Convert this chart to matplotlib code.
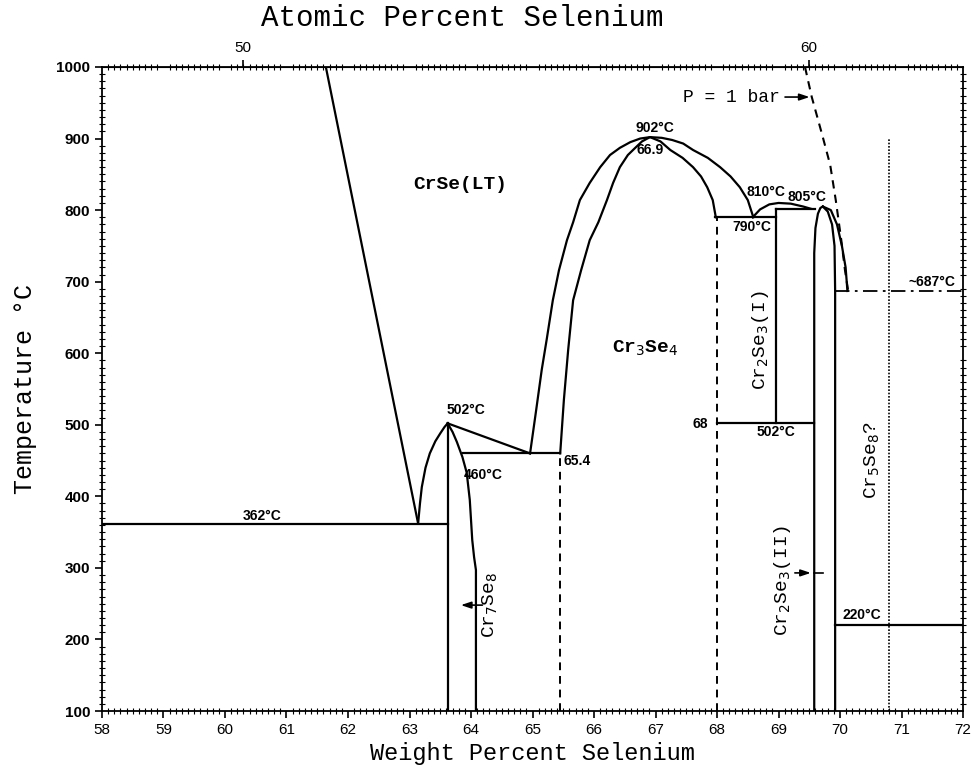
import numpy as np
import matplotlib
matplotlib.use("Agg")
from matplotlib import pyplot as plt
from matplotlib.ticker import MultipleLocator, FixedLocator

# --- boundaries (wt% Se, temperature degC) ---
liq_x = [61.64, 63.14]
liq_t = [1000, 362]

cr7_left_x = [63.14, 63.17, 63.2, 63.26, 63.33, 63.42, 63.5, 63.57, 63.62]
cr7_left_t = [362, 390, 413, 440, 460, 477, 488, 497, 502]
cr7_right_x = [63.62, 63.7, 63.77, 63.86, 63.93, 63.98, 64.02, 64.05, 64.08, 64.08]
cr7_right_t = [502, 490, 476, 455, 433, 395, 339, 315, 297, 100]

tie502_x = [63.62, 64.96]
tie502_t = [502, 460]

cr34_outer_x = [64.96, 65.06, 65.15, 65.23, 65.33, 65.43, 65.56, 65.66, 65.77,
                65.93, 66.10, 66.26, 66.42, 66.59, 66.75, 66.91, 67.1, 67.27,
                67.45, 67.61, 67.85, 68.05, 68.22, 68.37, 68.50, 68.59]
cr34_outer_t = [460, 521, 577, 619, 674, 716, 758, 783, 814,
                838, 860, 877, 887, 895, 900, 902, 901, 898,
                893, 884, 873, 860, 847, 832, 814, 790]
cr34_inner_x = [65.45, 65.51, 65.58, 65.66, 65.79, 65.93, 66.07, 66.21, 66.31,
                66.42, 66.55, 66.67, 66.78, 66.91, 67.08, 67.24, 67.44, 67.61,
                67.74, 67.84, 67.93, 67.98]
cr34_inner_t = [460, 535, 605, 674, 716, 758, 783, 814, 838,
                860, 877, 887, 896, 902, 896, 884, 873, 860,
                847, 832, 814, 790]

dome810_x = [68.58, 68.7, 68.85, 69.0, 69.2, 69.4, 69.52]
dome810_t = [790, 801, 808, 810, 809, 805, 802]

cr23ii_left_x = [69.58, 69.58, 69.6, 69.64, 69.68, 69.72]
cr23ii_left_t = [100, 740, 775, 795, 803, 805]
cr23ii_right_x = [69.72, 69.8, 69.87, 69.91, 69.92, 69.92]
cr23ii_right_t = [805, 798, 780, 750, 687, 100]
liq2_x = [69.72, 69.85, 69.95, 70.03, 70.09, 70.12]
liq2_t = [805, 800, 780, 750, 720, 687]

p1bar_x = [69.43, 69.54, 69.71, 69.84, 69.93, 70.02, 70.08, 70.13]
p1bar_t = [1000, 958, 905, 863, 814, 758, 716, 688]

# horizontal invariants: (x0, x1, T)
solid_h = [(58.0, 63.62, 362), (63.87, 65.45, 460), (67.97, 68.96, 790),
           (68.96, 69.6, 801), (68.0, 69.58, 502), (69.92, 72.0, 220)]
# vertical lines: (x, T0, T1)
solid_v = [(63.62, 100, 502), (68.96, 502, 801)]
dashed_v = [(65.45, 100, 460), (68.0, 100, 790)]
dotted_v = [(70.8, 100, 900)]
dashdot_h = [(69.92, 72.0, 687)]

# temperature / composition labels: (text, x, T, ha)
temp_labels = [
    ("902°C", 66.99, 915, "center"), ("66.9", 66.91, 884, "center"),
    ("502°C", 63.92, 521, "center"), ("460°C", 64.2, 430, "center"),
    ("65.4", 65.5, 450, "left"), ("362°C", 60.6, 373, "center"),
    ("790°C", 68.57, 776, "center"), ("810°C", 68.8, 825, "center"),
    ("805°C", 69.46, 818, "center"), ("~687°C", 71.5, 700, "center"),
    ("68", 67.72, 501, "center"), ("502°C", 68.96, 490, "center"),
    ("220°C", 70.36, 234, "center"),
]

WT_SE, WT_CR = 78.971, 51.996


def wt2at(w):
    w = np.asarray(w, dtype=float)
    a = w / WT_SE
    b = (100 - w) / WT_CR
    return 100 * a / (a + b)


def at2wt(at):
    at = np.asarray(at, dtype=float)
    a = at * WT_SE
    b = (100 - at) * WT_CR
    return 100 * a / (a + b)


mono = "Liberation Mono"
sans = "Liberation Sans"

fig = plt.figure(figsize=(9.73, 7.7), dpi=100)
ax = fig.add_axes([0.1048, 0.0766, 0.885, 0.8364])
ax.set_xlim(58, 72)
ax.set_ylim(100, 1000)

lw = 1.6
k = "black"
ax.plot(liq_x, liq_t, color=k, lw=lw)
ax.plot(cr7_left_x, cr7_left_t, color=k, lw=lw)
ax.plot(cr7_right_x, cr7_right_t, color=k, lw=lw)
ax.plot(tie502_x, tie502_t, color=k, lw=lw)
ax.plot(cr34_outer_x, cr34_outer_t, color=k, lw=lw)
ax.plot(cr34_inner_x, cr34_inner_t, color=k, lw=lw)
ax.plot(dome810_x, dome810_t, color=k, lw=lw)
ax.plot(cr23ii_left_x, cr23ii_left_t, color=k, lw=lw)
ax.plot(cr23ii_right_x, cr23ii_right_t, color=k, lw=lw)
ax.plot(liq2_x, liq2_t, color=k, lw=lw)
ax.plot(p1bar_x, p1bar_t, color=k, lw=1.5, ls=(0, (4, 3)))

for x0, x1, t in solid_h:
    ax.plot([x0, x1], [t, t], color=k, lw=lw)
for x, t0, t1 in solid_v:
    ax.plot([x, x], [t0, t1], color=k, lw=lw)
for x, t0, t1 in dashed_v:
    ax.plot([x, x], [t0, t1], color=k, lw=1.4, ls=(0, (4, 3)))
for x, t0, t1 in dotted_v:
    ax.plot([x, x], [t0, t1], color=k, lw=1.2, ls=(0, (1, 1)))
for x0, x1, t in dashdot_h:
    ax.plot([x0, x1], [t, t], color=k, lw=1.3, ls=(0, (8, 3, 1.5, 3)))

for txt, x, t, ha in temp_labels:
    ax.text(x, t, txt, fontsize=10, fontweight="bold", family=sans,
            ha=ha, va="center")

# phase names
ax.text(63.82, 836, "CrSe(LT)", family=mono, fontsize=14, fontweight="bold",
        ha="center", va="center")
ax.text(66.83, 607, r"Cr$_3$Se$_4$", family=mono, fontsize=14,
        fontweight="bold", ha="center", va="center")
ax.text(68.7, 618, r"Cr$_2$Se$_3$(I)", family=mono, fontsize=14,
        rotation=90, ha="center", va="center")
ax.text(70.52, 451, r"Cr$_5$Se$_8$?", family=mono, fontsize=14,
        rotation=90, ha="center", va="center")
ax.text(69.06, 283, r"Cr$_2$Se$_3$(II)", family=mono, fontsize=14,
        rotation=90, ha="center", va="center")
ax.text(64.31, 248, r"Cr$_7$Se$_8$", family=mono, fontsize=14,
        rotation=90, ha="center", va="center")
ax.text(69.02, 958, "P = 1 bar", family=mono, fontsize=13,
        ha="right", va="center")

arrow = dict(arrowstyle="-|>,head_length=0.6,head_width=0.2", color=k, lw=1.2)
ax.annotate("", xy=(69.55, 958), xytext=(69.06, 958), arrowprops=arrow)
ax.annotate("", xy=(63.79, 248), xytext=(64.23, 248), arrowprops=arrow)
ax.annotate("", xy=(69.57, 293), xytext=(69.22, 293), arrowprops=arrow)
ax.plot([69.57, 69.72], [293, 293], color=k, lw=1.2)

# axes styling
ax.xaxis.set_major_locator(MultipleLocator(1))
ax.xaxis.set_minor_locator(MultipleLocator(0.1))
ax.yaxis.set_major_locator(MultipleLocator(100))
ax.yaxis.set_minor_locator(MultipleLocator(10))
ax.tick_params(which="major", direction="out", length=5, width=1.2,
               labelsize=11, left=True, bottom=True, top=False, right=False)
ax.tick_params(which="minor", direction="inout", length=4, width=0.8,
               left=True, bottom=True, top=True, right=True)
for lab in ax.get_xticklabels():
    lab.set_family(sans)
for lab in ax.get_yticklabels():
    lab.set_family(sans)
    lab.set_fontweight("bold")
for sp in ax.spines.values():
    sp.set_linewidth(1.3)

ax.set_xlabel("Weight Percent Selenium", family=mono, fontsize=17, labelpad=4)
ax.set_ylabel("Temperature °C", family=mono, fontsize=18, labelpad=14)

top = ax.secondary_xaxis("top", functions=(wt2at, at2wt))
top.xaxis.set_major_locator(FixedLocator([50, 60]))
top.xaxis.set_minor_locator(FixedLocator([]))
top.tick_params(which="major", direction="out", length=5, width=1.2,
                labelsize=11)
for lab in top.get_xticklabels():
    lab.set_family(sans)
fig.text(0.475, 0.977, "Atomic Percent Selenium", family=mono, fontsize=21,
         ha="center", va="center")

fig.savefig("out.png", dpi=100)
